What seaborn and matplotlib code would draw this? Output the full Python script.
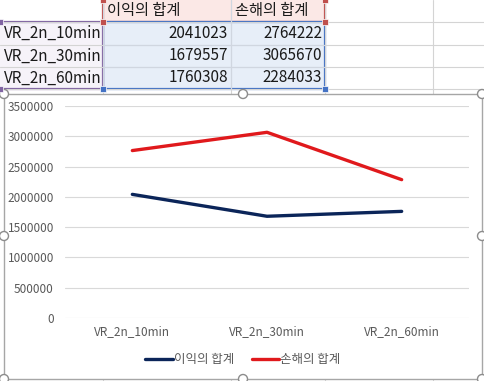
import matplotlib
matplotlib.use("Agg")
import matplotlib.pyplot as plt
from matplotlib.patches import Rectangle, Circle
import pandas as pd
import seaborn as sns

# --- Data (read from the sheet) ---
categories = ["VR_2n_10min", "VR_2n_30min", "VR_2n_60min"]
series_names = ["이익의 합계", "손해의 합계"]
profit = [2041023, 1679557, 1760308]
loss = [2764222, 3065670, 2284033]
y_ticks = [0, 500000, 1000000, 1500000, 2000000, 2500000, 3000000, 3500000]

colors = ["#0B2559", "#E0191C"]
W, H = 485, 381

sns.set_style("white")
plt.rcParams["font.family"] = ["Noto Sans CJK KR", "DejaVu Sans"]

df = pd.DataFrame({"cat": categories, series_names[0]: profit, series_names[1]: loss})
long_df = df.melt(id_vars="cat", var_name="series", value_name="value")

fig = plt.figure(figsize=(W / 100, H / 100), dpi=100)

# --- spreadsheet backdrop (pixel coordinates) ---
bg = fig.add_axes([0, 0, 1, 1])
bg.set_xlim(0, W)
bg.set_ylim(H, 0)
bg.axis("off")
bg.set_zorder(0)

col_edges = [0, 103, 231, 325, 433, W]
row_edges = [0, 22, 45, 67, 89]
grid_c = "#D4D4D4"
for x in col_edges[1:-1]:
    bg.plot([x, x], [0, H], color=grid_c, lw=0.8)
for y in row_edges[1:]:
    bg.plot([0, W], [y, y], color=grid_c, lw=0.8)

# selection fills and borders
bg.add_patch(Rectangle((103, -2), 222, 24, facecolor="#FBE8E6", edgecolor="#C0504D", lw=1.6))
bg.add_patch(Rectangle((103, 22), 222, 67, facecolor="#E7EEF8", edgecolor="#4472C4", lw=1.6))
bg.add_patch(Rectangle((-2, 22), 105, 67, facecolor="#F6F3F9", edgecolor="#8064A2", lw=1.6))
for x in [103, 231]:
    bg.plot([x, x], [0, 89], color="#D0D6E0", lw=0.8)
for y in [45, 67]:
    bg.plot([103, 325], [y, y], color="#D0D6E0", lw=0.8)
for (x, y, c) in [(103, 0, "#C0504D"), (325, 0, "#C0504D"), (103, 22, "#C0504D"), (325, 22, "#C0504D"),
                  (103, 89, "#4472C4"), (325, 89, "#4472C4"), (0, 22, "#8064A2"), (0, 89, "#8064A2")]:
    bg.add_patch(Rectangle((x - 3, y - 3), 6, 6, facecolor=c, edgecolor="white", lw=0.5, zorder=5))

tkw = dict(fontsize=11, color="#1A1A1A", va="center")
bg.text(107, 11, series_names[0], ha="left", **tkw)
bg.text(235, 11, series_names[1], ha="left", **tkw)
for i, cat in enumerate(categories):
    yc = (row_edges[i + 1] + row_edges[i + 2]) / 2
    bg.text(4, yc, cat, ha="left", **tkw)
    bg.text(228, yc, str(profit[i]), ha="right", **tkw)
    bg.text(322, yc, str(loss[i]), ha="right", **tkw)

# chart area frame and handles
bg.add_patch(Rectangle((4, 94), 478, 285, facecolor="white", edgecolor="#A6A6A6", lw=1, zorder=3))
for (x, y) in [(4, 94), (243, 94), (482, 94), (4, 236), (482, 236), (4, 379), (243, 379), (482, 379)]:
    bg.add_patch(Circle((x, y), 4.5, facecolor="white", edgecolor="#8C8C8C", lw=1, zorder=4))

# --- chart ---
ax = fig.add_axes([65 / W, (H - 318) / H, (469 - 65) / W, (318 - 106) / H])
ax.set_zorder(1)
ax.set_facecolor("none")
sns.lineplot(data=long_df, x="cat", y="value", hue="series", palette=colors,
             sort=False, lw=2.4, ax=ax, legend=False)

ax.set_xlim(-0.5, len(categories) - 0.5)
ax.set_ylim(0, y_ticks[-1])
ax.set_yticks(y_ticks)
ax.set_yticklabels([str(v) for v in y_ticks])
ax.grid(axis="y", color="#D9D9D9", lw=0.8)
ax.grid(axis="x", visible=False)
ax.set_axisbelow(True)
for s in ax.spines.values():
    s.set_visible(False)
ax.tick_params(axis="both", length=0, labelsize=8.5, labelcolor="#595959")
ax.tick_params(axis="y", pad=8)
ax.tick_params(axis="x", pad=5)
ax.set_xlabel("")
ax.set_ylabel("")

handles = [plt.Line2D([], [], color=c, lw=2.4) for c in colors]
fig.legend(handles, series_names, loc="center", bbox_to_anchor=(243 / W, (H - 360) / H),
           ncol=2, frameon=False, fontsize=9, handlelength=2.2, handletextpad=0.1,
           columnspacing=1.4, labelcolor="#595959")

fig.savefig("out.png", dpi=100)
